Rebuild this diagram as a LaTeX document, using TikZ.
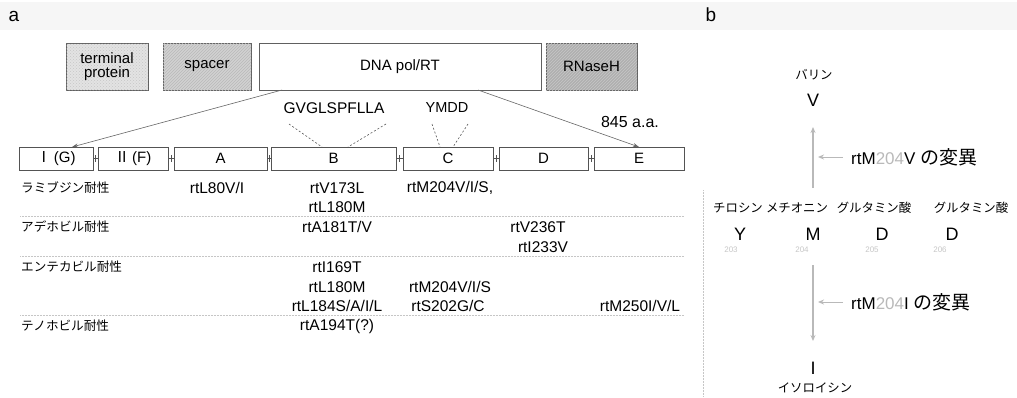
\documentclass[tikz,border=0pt]{standalone}
\usepackage{fontspec}
\setmainfont{Liberation Sans}
\newfontfamily\jp{Noto Sans CJK JP}
\usetikzlibrary{arrows.meta,patterns,calc}
\tikzset{
  bigbox/.style={draw=gray!75!black, line width=0.8pt, minimum height=47, inner sep=0pt, align=center, font=\fontsize{15}{16}\selectfont},
  seg/.style={draw=gray!65!black, line width=0.6pt, minimum height=23, inner sep=0pt, font=\fontsize{15}{16}\selectfont},
  mut/.style={font=\fontsize{15.5}{16}\selectfont, inner sep=0pt},
  jlab/.style={font=\jp\fontsize{12.6}{14}\selectfont, anchor=west, inner sep=0pt},
  jname/.style={font=\jp\fontsize{12.4}{14}\selectfont, inner sep=0pt},
  aa/.style={font=\fontsize{18}{19}\selectfont, inner sep=0pt},
  num/.style={font=\fontsize{8}{9}\selectfont, text=gray!45, inner sep=0pt},
  sep/.style={gray!45, densely dotted, line width=0.5pt},
  pointer/.style={gray!80!black, line width=0.6pt, -{Stealth[length=6pt,width=4pt]}},
  motif/.style={gray!70!black, line width=0.6pt, dashed, dash pattern=on 2pt off 2pt},
  garrow/.style={gray!55, line width=1.3pt, -{Stealth[length=6pt,width=5pt]}},
  mutlab/.style={font=\fontsize{17}{18}\selectfont, anchor=west, inner sep=0pt},
}
\begin{document}
\begin{tikzpicture}[x=1pt,y=-1pt]
\useasboundingbox (0,0) rectangle (1017,397);
\fill[gray!7] (0,2) rectangle (1017,30);
\node[font=\fontsize{19}{20}\selectfont, inner sep=0pt] (la) at (14,16) {a};
\node[font=\fontsize{19}{20}\selectfont, inner sep=0pt] (lb) at (711,15) {b};

% domain bar
\node[bigbox, minimum width=82, fill=gray!22, postaction={pattern=crosshatch dots, pattern color=gray!45}] (tp) at (107,66.5) {terminal\\[-2pt]protein};
\node[bigbox, minimum width=88, fill=gray!35, postaction={pattern=north east lines, pattern color=gray!55}] (sp) at (207,66.5) {spacer};
\node[bigbox, minimum width=282, fill=white] (dna) at (400,66.5) {DNA pol/RT};
\node[bigbox, minimum width=91, fill=gray!62, postaction={pattern=north east lines, pattern color=gray!45}] (rn) at (591.5,66.5) {RNaseH};

% segments
\node[seg, minimum width=74] (sg) at (56,158.5) {{\jp Ⅰ}\,(G)};
\node[seg, minimum width=70] (sf) at (133,158.5) {{\jp Ⅱ}\,(F)};
\node[seg, minimum width=93] (sa) at (220.5,158.5) {A};
\node[seg, minimum width=125] (sb) at (333.5,158.5) {B};
\node[seg, minimum width=90] (sc) at (448,158.5) {C};
\node[seg, minimum width=89] (sd) at (543.5,158.5) {D};
\node[seg, minimum width=90] (se) at (639,158.5) {E};
\foreach \p/\q in {sg/sf,sf/sa,sa/sb,sb/sc,sc/sd,sd/se}{
  \draw[gray!65!black, line width=0.5pt] (\p.east) -- (\q.west);
  \draw[gray!65!black, line width=0.5pt] ($(\p.east)!0.5!(\q.west)+(0,-3.5)$) -- ($(\p.east)!0.5!(\q.west)+(0,3.5)$);
}

% expansion lines
\coordinate (dl) at (282,90);
\coordinate (dr) at (478,90);
\coordinate (tl) at (72,147);
\coordinate (tr) at (639,147);
\draw[pointer] (dl) -- (tl);
\draw[pointer] (dr) -- (tr);

% motifs
\node[mut] (gv) at (334,108) {GVGLSPFLLA};
\node[mut, font=\fontsize{14.5}{15}\selectfont] (ym) at (447,108) {YMDD};
\node[mut, font=\fontsize{16}{17}\selectfont] (len) at (630,122) {845 a.a.};
\coordinate (g1) at (289,124); \coordinate (g2) at (386,124);
\coordinate (b1) at (322,147); \coordinate (b2) at (348,147);
\coordinate (y1) at (432,124); \coordinate (y2) at (468,124);
\coordinate (c1) at (440,147); \coordinate (c2) at (453,147);
\draw[motif] (g1) -- (b1);
\draw[motif] (g2) -- (b2);
\draw[motif] (y1) -- (c1);
\draw[motif] (y2) -- (c2);

% table rows
\node[jlab] (r1) at (21,188) {ラミブジン耐性};
\node[jlab] (r2) at (21,227) {アデホビル耐性};
\node[jlab] (r3) at (21,267) {エンテカビル耐性};
\node[jlab] (r4) at (21,326) {テノホビル耐性};

\node[mut] (m1) at (217,188) {rtL80V/I};
\node[mut] (m2) at (337,188) {rtV173L};
\node[mut] (m3) at (337,207) {rtL180M};
\node[mut] (m4) at (450,188) {rtM204V/I/S,};
\node[mut] (m5) at (337,227) {rtA181T/V};
\node[mut] (m6) at (538,227) {rtV236T};
\node[mut] (m7) at (543,247) {rtI233V};
\node[mut] (m8) at (337,267) {rtI169T};
\node[mut] (m9) at (337,287) {rtL180M};
\node[mut] (m10) at (450,287) {rtM204V/I/S};
\node[mut] (m11) at (337,306) {rtL184S/A/I/L};
\node[mut] (m12) at (448,306) {rtS202G/C};
\node[mut] (m13) at (640,306) {rtM250I/V/L};
\node[mut] (m14) at (337,326) {rtA194T(?)};

\draw[sep] (20,216) -- (684,216);
\draw[sep] (20,256) -- (684,256);
\draw[sep] (20,315) -- (684,315);
\draw[sep] (703,190) -- (703,397);

% panel b
\node[jname] (val) at (814,75) {バリン};
\node[aa] (v) at (813,100) {V};
\coordinate (ua) at (813,188);
\coordinate (ub) at (813,127);
\draw[garrow] (ua) -- (ub);
\coordinate (pa) at (843,157);
\coordinate (pb) at (818,157);
\draw[garrow, line width=1pt] (pa) -- (pb);
\node[mutlab] (t1) at (851,157) {rtM\textcolor{gray!55}{204}V {\jp\fontsize{19}{20}\selectfont の変異}};

\node[jname] (n1) at (738,208) {チロシン};
\node[jname] (n2) at (797,208) {メチオニン};
\node[jname] (n3) at (874,208) {グルタミン酸};
\node[jname] (n4) at (971,208) {グルタミン酸};
\node[aa] (y) at (740,234) {Y};
\node[aa] (m) at (813,234) {M};
\node[aa] (d1) at (882,234) {D};
\node[aa] (d2) at (952,234) {D};
\node[num] (k1) at (731,250) {203};
\node[num] (k2) at (802,250) {204};
\node[num] (k3) at (872,250) {205};
\node[num] (k4) at (940,250) {206};

\coordinate (da) at (813,265);
\coordinate (db) at (813,341);
\draw[garrow] (da) -- (db);
\coordinate (qa) at (843,302);
\coordinate (qb) at (818,302);
\draw[garrow, line width=1pt] (qa) -- (qb);
\node[mutlab] (t2) at (851,302) {rtM\textcolor{gray!55}{204}I {\jp\fontsize{19}{20}\selectfont の変異}};
\node[aa] (iso) at (813,368) {I};
\node[jname] (isoname) at (815,388) {イソロイシン};
\end{tikzpicture}
\end{document}
